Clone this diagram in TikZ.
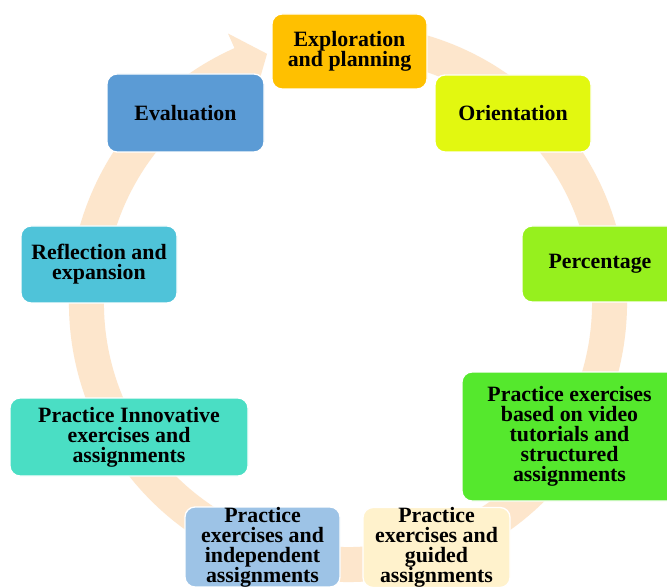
\documentclass[tikz,border=0pt]{standalone}
\usepackage{fontspec}
\setmainfont{Liberation Serif}
\usetikzlibrary{calc}
\definecolor{ringcol}{RGB}{253,230,204}
\definecolor{cexpl}{RGB}{255,192,0}
\definecolor{corient}{RGB}{226,248,16}
\definecolor{ceval}{RGB}{91,155,213}
\definecolor{cperc}{RGB}{150,240,30}
\definecolor{crefl}{RGB}{79,195,217}
\definecolor{cvideo}{RGB}{85,232,45}
\definecolor{cinnov}{RGB}{74,222,196}
\definecolor{cindep}{RGB}{157,195,230}
\definecolor{cguided}{RGB}{255,242,204}
\tikzset{
  box/.style n args={3}{draw=white, line width=1pt, fill=#1, rounded corners=7.5pt,
    minimum width=#2*0.75pt, minimum height=#3*0.75pt, inner sep=0pt, align=center,
    font=\fontsize{16.4pt}{15pt}\selectfont\bfseries, text=black},
}
\begin{document}
\begin{tikzpicture}[x=0.75pt,y=0.75pt]
\useasboundingbox (0,0) rectangle (667,586);
\clip (0,0) rectangle (667,586);
\fill[white] (0,0) rectangle (667,586);
\coordinate (c) at (348,283);
\fill[ringcol] ($(c)+(80:279)$) arc[start angle=80,end angle=-246,radius=279]
  -- ($(c)+(-246:295)$) -- ($(c)+(-252:262)$) -- ($(c)+(-246:228)$)
  -- ($(c)+(-246:244)$) arc[start angle=-246,end angle=80,radius=244] -- cycle;
\node[box={cexpl}{155}{75}] (expl) at (349.5,534.5) {Exploration\\and planning};
\node[box={corient}{156}{77}] (orient) at (513,472.5) {Orientation};
\node[box={ceval}{157}{78}] (eval) at (185.5,473) {Evaluation};
\node[box={cperc}{156}{76}] (perc) at (600,322) {Percentage};
\node[box={crefl}{156}{77}] (refl) at (99,321.5) {Reflection and\\expansion};
\node[box={cvideo}{215}{129}] (video) at (569.5,149.5) {Practice exercises\\based on video\\tutorials and\\structured\\assignments};
\node[box={cinnov}{238}{78}] (innov) at (129,149) {Practice Innovative\\exercises and\\assignments};
\node[box={cindep}{155}{78}] (indep) at (262.5,39) {Practice\\exercises and\\independent\\assignments};
\node[box={cguided}{147}{77}] (guided) at (436.5,38.5) {Practice\\exercises and\\guided\\assignments};
\end{tikzpicture}
\end{document}
